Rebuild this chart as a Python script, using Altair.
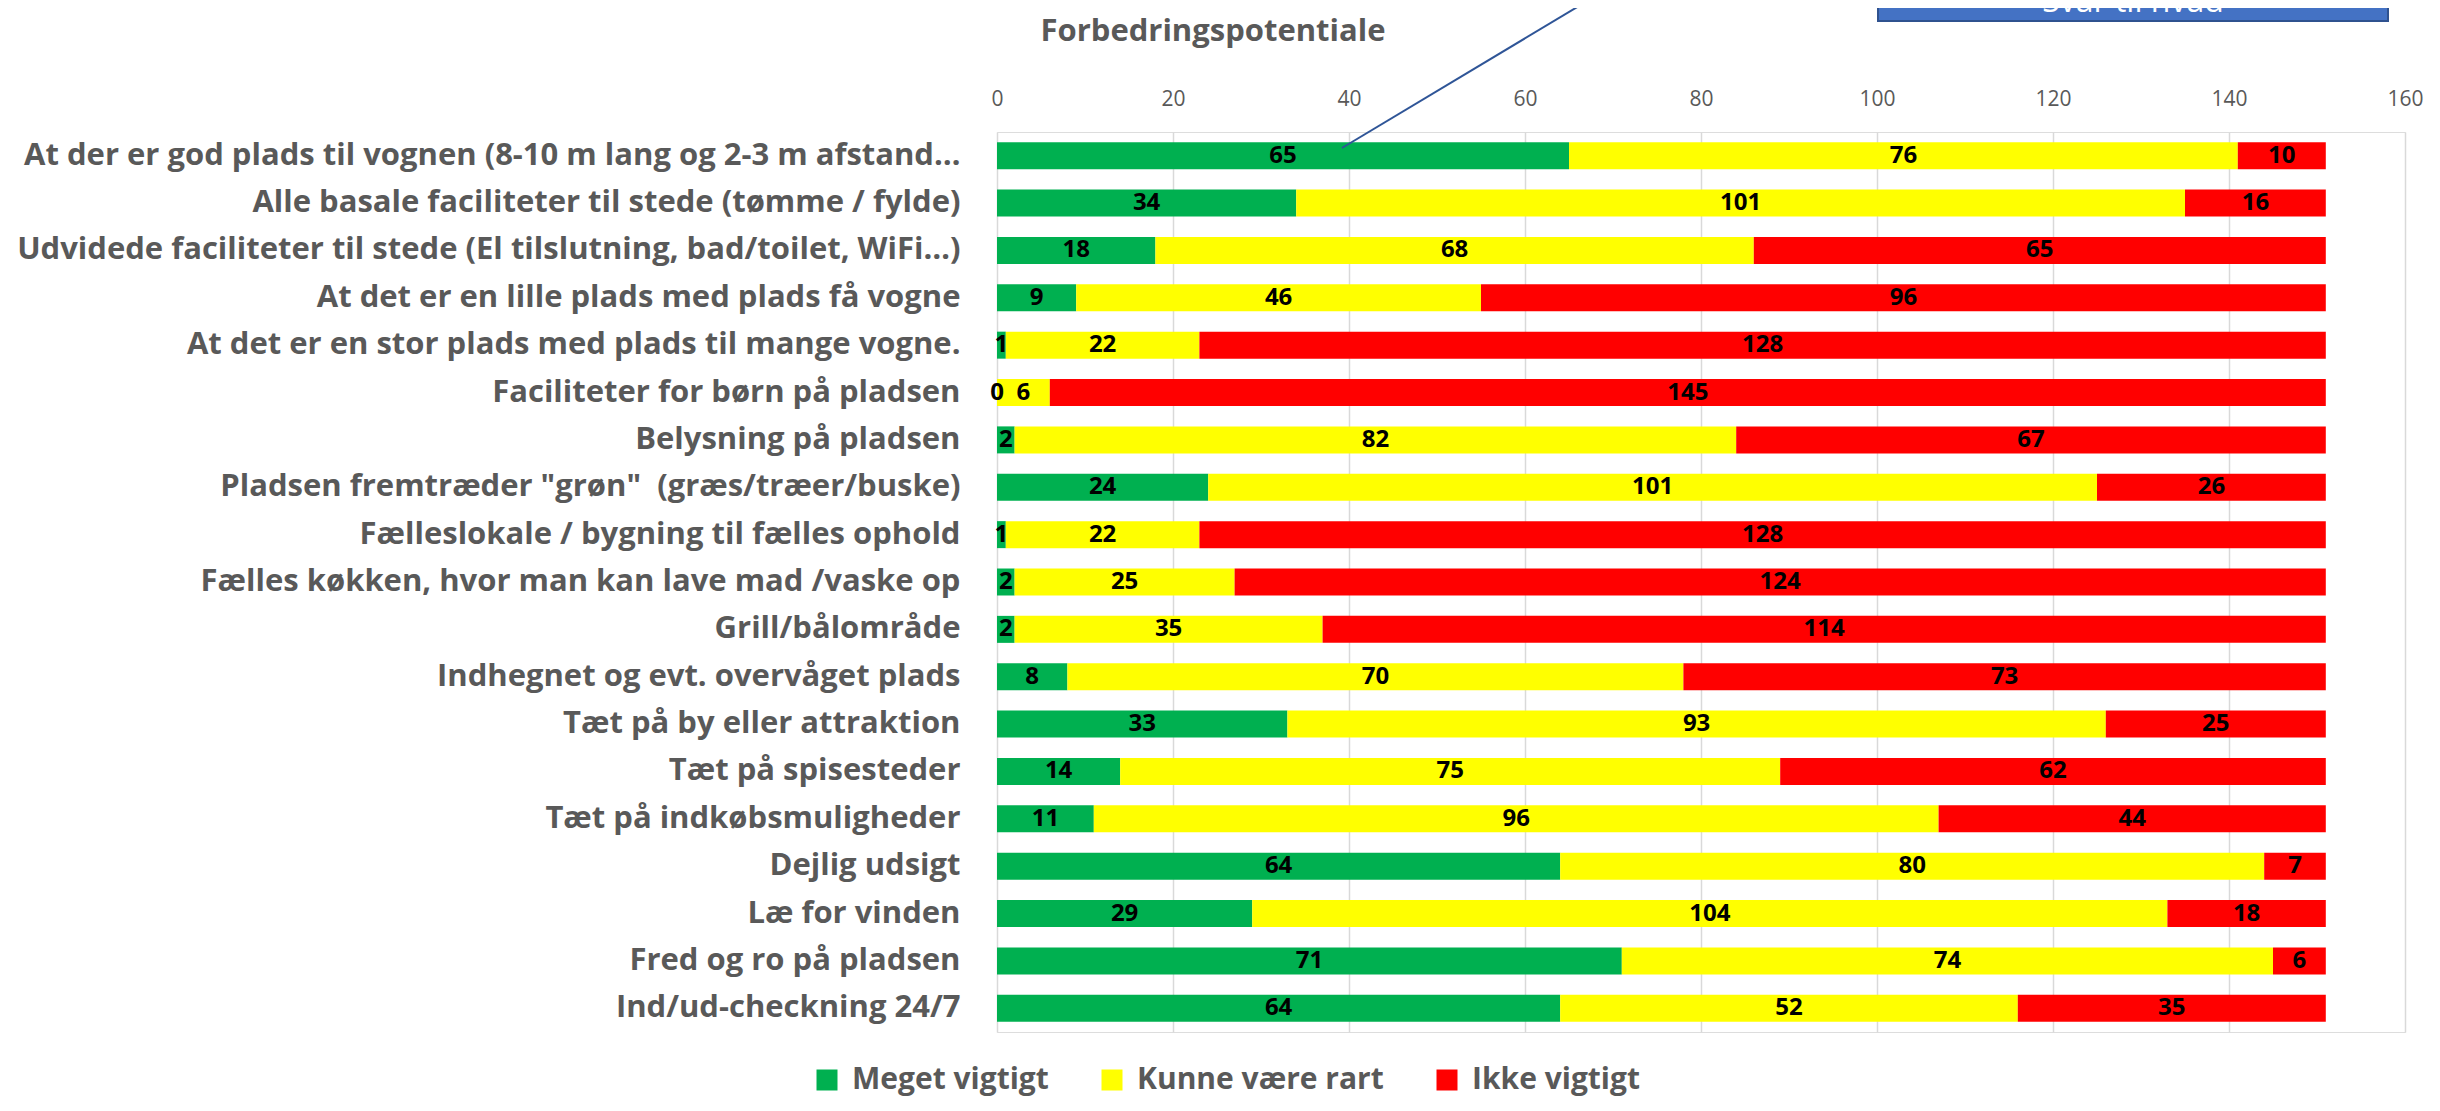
import altair as alt
import pandas as pd

categories = [
    "At der er god plads til vognen (8-10 m lang og 2-3 m afstand…",
    "Alle basale faciliteter til stede (tømme / fylde)",
    "Udvidede faciliteter til stede (El tilslutning, bad/toilet, WiFi…)",
    "At det er en lille plads med plads få vogne",
    "At det er en stor plads med plads til mange vogne.",
    "Faciliteter for børn på pladsen",
    "Belysning på pladsen",
    "Pladsen fremtræder \"grøn\" \u00a0(græs/træer/buske)",
    "Fælleslokale / bygning til fælles ophold",
    "Fælles køkken, hvor man kan lave mad /vaske op",
    "Grill/bålområde",
    "Indhegnet og evt. overvåget plads",
    "Tæt på by eller attraktion",
    "Tæt på spisesteder",
    "Tæt på indkøbsmuligheder",
    "Dejlig udsigt",
    "Læ for vinden",
    "Fred og ro på pladsen",
    "Ind/ud-checkning 24/7",
]
series = ["Meget vigtigt", "Kunne være rart", "Ikke vigtigt"]
colors = ["#00B050", "#FFFF00", "#FF0000"]
meget = [65, 34, 18, 9, 1, 0, 2, 24, 1, 2, 2, 8, 33, 14, 11, 64, 29, 71, 64]
kunne = [76, 101, 68, 46, 22, 6, 82, 101, 22, 25, 35, 70, 93, 75, 96, 80, 104, 74, 52]
ikke = [10, 16, 65, 96, 128, 145, 67, 26, 128, 124, 114, 73, 25, 62, 44, 7, 18, 6, 35]
x_ticks = [0, 20, 40, 60, 80, 100, 120, 140, 160]
title_text = "Forbedringspotentiale"
box_text = "Svar til hvad"

rows = []
for i, c in enumerate(categories):
    for j, vals in enumerate([meget, kunne, ikke]):
        rows.append({"cat": c, "serie": series[j], "value": vals[i], "order": j})
df = pd.DataFrame(rows)

FONT = "Open Sans"
GREY = "#595959"

base = alt.Chart(df).transform_stack(
    stack="value", groupby=["cat"], sort=[alt.SortField("order", order="ascending")], as_=["v0", "v1"]
).transform_calculate(mid="(datum.v0 + datum.v1) / 2")

y_enc = alt.Y(
    "cat:N", sort=categories, title=None,
    scale=alt.Scale(paddingInner=0.43, paddingOuter=0.215),
    axis=alt.Axis(labelFontSize=31, labelFont=FONT, labelFontWeight="bold", labelColor=GREY,
                  labelLimit=1500, labelPadding=37, ticks=False, domain=False, grid=False),
)

bars = base.mark_bar().encode(
    y=y_enc,
    x=alt.X("v0:Q", scale=alt.Scale(domain=[0, 160], nice=False), title=None,
            axis=alt.Axis(orient="top", values=x_ticks, labelFontSize=21, labelFont=FONT,
                          labelColor=GREY, ticks=False, domain=False, gridColor="#D9D9D9",
                          gridWidth=1.5, labelPadding=23, labelFlush=False)),
    x2="v1:Q",
    color=alt.Color("serie:N", scale=alt.Scale(domain=series, range=colors),
                    legend=alt.Legend(title=None, orient="none", legendX=-185, legendY=933,
                                      direction="horizontal", columns=3, symbolType="square",
                                      symbolSize=441, symbolStrokeWidth=0, symbolOpacity=1,
                                      labelFontSize=30, labelFont=FONT, labelFontWeight="bold",
                                      labelColor=GREY, labelOffset=10, columnPadding=48,
                                      labelLimit=600)),
    order=alt.Order("order:Q"),
)

labels = base.mark_text(font=FONT, fontWeight="bold", fontSize=24, color="black", baseline="middle").encode(
    x=alt.X("mid:Q"),
    y=alt.Y("cat:N", sort=categories),
    text="value:Q",
)

title_mark = alt.Chart(pd.DataFrame({"t": [title_text]})).mark_text(
    font=FONT, fontWeight="bold", fontSize=31, color=GREY, align="center", baseline="alphabetic"
).encode(text="t:N", x=alt.value(216), y=alt.value(-91))

box = alt.Chart(pd.DataFrame({"t": [box_text]})).mark_rect(
    fill="#4472C4", stroke="#2F528F", strokeWidth=2
).encode(x=alt.value(881), x2=alt.value(1391), y=alt.value(-170), y2=alt.value(-111))

box_label = alt.Chart(pd.DataFrame({"t": [box_text]})).mark_text(
    font=FONT, fontSize=32, color="white", align="center", baseline="alphabetic"
).encode(text="t:N", x=alt.value(1136), y=alt.value(-120))

ann = alt.Chart(pd.DataFrame({"x": [39.2]})).mark_rule(color="#2F5597", strokeWidth=2).encode(
    x=alt.X("x:Q"), y=alt.value(16), x2=alt.value(622), y2=alt.value(-150)
)

chart = alt.layer(bars, labels, ann, box, box_label, title_mark).properties(
    width=1408, height=900,
    autosize=alt.AutoSizeParams(type="none"),
    padding={"left": 989, "top": 124, "right": 25, "bottom": 66},
).configure_view(stroke=None).configure(font=FONT)

chart.save("out.html", embed_options={"renderer": "svg", "actions": False})
